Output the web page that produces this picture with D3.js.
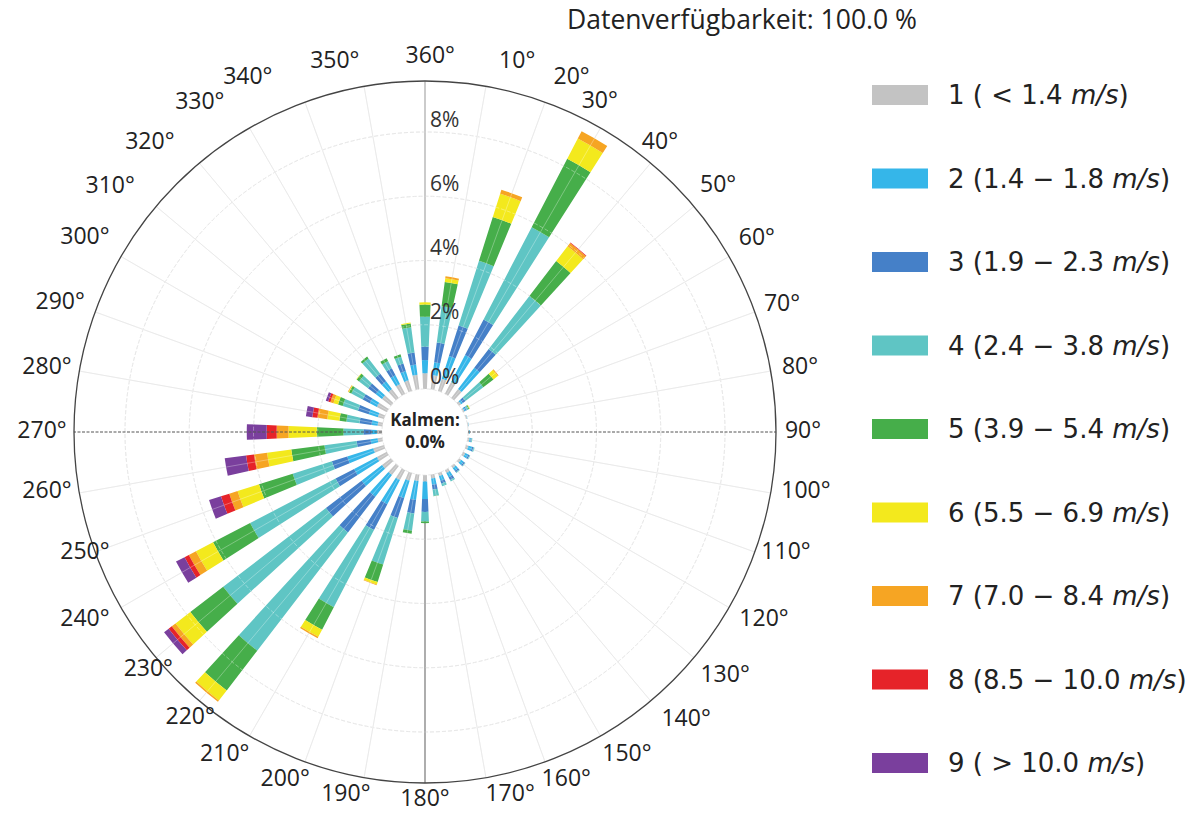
<!DOCTYPE html>
<html>
<head>
<meta charset="utf-8">
<script src="https://cdn.jsdelivr.net/npm/d3@7"></script>
<style>
  html, body { margin: 0; padding: 0; background: #fff; }
  svg { display: block; }
</style>
</head>
<body>
<svg id="chart" width="1204" height="814"></svg>
<script>
// ---------------- DATA ----------------
const directions = d3.range(0, 360, 10);   // 0°,10°,...,350°
// percent frequency per direction (index = direction/10) for each speed class
const class1 = [0.49,0.45,0.40,0.42,0.35,0.08,0.05,0.04,0.03,0.04,0.06,0.08,0.08,0.08,0.08,0.10,0.10,0.12,0.20,0.20,0.25,0.35,0.35,0.35,0.35,0.35,0.15,0.16,0.15,0.20,0.35,0.35,0.35,0.35,0.35,0.46];
const class2 = [0.41,0.40,0.74,0.94,0.83,0.07,0.04,0.01,0.01,0.02,0.04,0.12,0.10,0.10,0.10,0.15,0.15,0.20,0.55,0.60,0.57,0.85,0.85,0.80,0.80,0.85,0.22,0.16,0.19,0.30,0.25,0.25,0.30,0.30,0.30,0.32];
const class3 = [0.42,0.62,1.00,1.25,0.74,0.10,0.04,0.00,0.00,0.00,0.02,0.05,0.05,0.05,0.06,0.10,0.10,0.15,0.40,0.42,0.65,0.90,1.40,1.40,0.65,0.50,0.44,0.26,0.38,0.35,0.25,0.30,0.30,0.25,0.25,0.38];
const class4 = [0.93,1.14,2.11,3.24,2.08,0.70,0.06,0.00,0.00,0.00,0.03,0.03,0.02,0.02,0.03,0.05,0.08,0.20,0.30,0.54,1.52,2.71,4.64,4.03,3.00,1.28,1.01,0.62,0.41,0.50,0.40,0.35,0.60,0.25,0.22,0.79];
const class5 = [0.38,0.76,1.43,2.40,1.37,0.40,0.03,0.00,0.00,0.00,0.00,0.00,0.00,0.00,0.00,0.00,0.00,0.01,0.05,0.10,0.57,0.79,1.56,1.29,1.30,1.10,1.04,0.83,0.22,0.15,0.08,0.09,0.07,0.10,0.08,0.12];
const class6 = [0.07,0.12,0.76,0.71,0.58,0.17,0.02,0.00,0.00,0.00,0.00,0.00,0.00,0.00,0.00,0.00,0.00,0.00,0.00,0.00,0.08,0.25,0.40,0.58,0.60,0.70,0.76,0.88,0.38,0.15,0.02,0.02,0.00,0.00,0.00,0.03];
const class7 = [0.00,0.06,0.13,0.26,0.13,0.03,0.00,0.00,0.00,0.00,0.00,0.00,0.00,0.00,0.00,0.00,0.00,0.00,0.00,0.00,0.02,0.05,0.05,0.15,0.25,0.27,0.41,0.37,0.31,0.10,0.02,0.00,0.00,0.00,0.00,0.00];
const class8 = [0.00,0.00,0.00,0.00,0.02,0.00,0.00,0.00,0.00,0.00,0.00,0.00,0.00,0.00,0.00,0.00,0.00,0.00,0.00,0.00,0.00,0.00,0.00,0.12,0.15,0.27,0.25,0.31,0.16,0.07,0.00,0.00,0.00,0.00,0.00,0.00];
const class9 = [0.00,0.00,0.00,0.00,0.00,0.00,0.00,0.00,0.00,0.00,0.00,0.00,0.00,0.00,0.00,0.00,0.00,0.00,0.00,0.00,0.00,0.00,0.00,0.18,0.30,0.39,0.67,0.62,0.20,0.08,0.00,0.00,0.00,0.00,0.00,0.00];
const speedClasses = [class1, class2, class3, class4, class5, class6, class7, class8, class9];

const legendPrefix = ["1 ( < 1.4 ","2 (1.4 \u2212 1.8 ","3 (1.9 \u2212 2.3 ","4 (2.4 \u2212 3.8 ","5 (3.9 \u2212 5.4 ","6 (5.5 \u2212 6.9 ","7 (7.0 \u2212 8.4 ","8 (8.5 \u2212 10.0 ","9 ( > 10.0 "];
const radialTicks = [0, 2, 4, 6, 8];
const angleLabels = directions.map(d => (d === 0 ? 360 : d) + "°");
const titleText = "Datenverfügbarkeit: 100.0 %";
const calmText = ["Kalmen:", "0.0%"];

// ---------------- STYLE / LAYOUT ----------------
const classColors = ["#c3c3c3","#35b6e9","#4580c8","#5fc5c4","#46ae4a","#f3e91d","#f6a523","#e62329","#7a3f9d"];
// placement of the direction labels (polar: angle in degrees, distance from centre in px), as in the original
const labelAngle  = [0.8,14,22.5,27.9,39.1,50,59.8,70.4,80.3,90,99,108.5,119,129.1,137.8,148,157.9,166.8,180,192.3,201.9,211.8,219.4,229.3,241.1,250.4,261,270,279.6,289.5,299.7,307.9,316.4,325.6,333.4,346.3];
const labelRadius = [375,381,383,373.5,372.5,382.6,384,379,380.4,378,385.7,380.7,387.6,386.7,388.7,381,375.5,372.8,368,371.5,375,380,370,365,388.5,361,382.7,383,383.4,387,391.5,399,399,398.6,395.8,380.8];

const cx = 425, cy = 432;
const innerR = 43, outerR = 351;
const rScale = d3.scaleLinear().domain([0, 8]).range([innerR, 300]);
const barHalf = 2.5 * Math.PI / 180;
const toRad = d => d * Math.PI / 180;
const FONT = "'Open Sans', 'Noto Sans', sans-serif";

const svg = d3.select("#chart");
const g = svg.append("g").attr("transform", `translate(${cx},${cy})`);

// grid under bars
const gridG = g.append("g");
radialTicks.forEach(t => {
  gridG.append("circle").attr("r", rScale(t)).attr("fill", "none")
    .attr("stroke", "#dcdcdc").attr("stroke-width", 1).attr("stroke-dasharray", "4,2");
});
directions.forEach(d => {
  if (d % 90 === 0) return;
  const a = toRad(d);
  gridG.append("line")
    .attr("x1", innerR * Math.sin(a)).attr("y1", -innerR * Math.cos(a))
    .attr("x2", outerR * Math.sin(a)).attr("y2", -outerR * Math.cos(a))
    .attr("stroke", "#e2e2e2").attr("stroke-width", 1);
});
[[0, "#a8a8a8"], [180, "#777"]].forEach(([d, col]) => {
  const a = toRad(d);
  gridG.append("line")
    .attr("x1", innerR * Math.sin(a)).attr("y1", -innerR * Math.cos(a))
    .attr("x2", outerR * Math.sin(a)).attr("y2", -outerR * Math.cos(a))
    .attr("stroke", col).attr("stroke-width", 1.2);
});

// stacked bars
const arc = d3.arc();
const barsG = g.append("g");
directions.forEach((d, i) => {
  let cum = 0;
  speedClasses.forEach((arr, k) => {
    const v = arr[i];
    if (v <= 0) return;
    barsG.append("path")
      .attr("d", arc({
        innerRadius: rScale(cum), outerRadius: rScale(cum + v),
        startAngle: toRad(d) - barHalf, endAngle: toRad(d) + barHalf
      }))
      .attr("fill", classColors[k]);
    cum += v;
  });
});

// grid overlay (faint, over bars)
const overG = g.append("g").attr("pointer-events", "none");
radialTicks.forEach(t => {
  overG.append("circle").attr("r", rScale(t)).attr("fill", "none")
    .attr("stroke", "#ffffff").attr("stroke-opacity", 0.35).attr("stroke-width", 1).attr("stroke-dasharray", "4,2");
});
directions.forEach(d => {
  if (d % 90 === 0) return;
  const a = toRad(d);
  overG.append("line")
    .attr("x1", innerR * Math.sin(a)).attr("y1", -innerR * Math.cos(a))
    .attr("x2", outerR * Math.sin(a)).attr("y2", -outerR * Math.cos(a))
    .attr("stroke", "#ffffff").attr("stroke-opacity", 0.3).attr("stroke-width", 1);
});

[90, 270].forEach(d => {
  const a = toRad(d);
  g.append("line")
    .attr("x1", innerR * Math.sin(a)).attr("y1", -innerR * Math.cos(a))
    .attr("x2", outerR * Math.sin(a)).attr("y2", -outerR * Math.cos(a))
    .attr("stroke", "#555").attr("stroke-width", 1).attr("stroke-dasharray", "3,1.5");
});

// outer circle
g.append("circle").attr("r", outerR).attr("fill", "none").attr("stroke", "#444").attr("stroke-width", 1.3);
// calm disk
g.append("circle").attr("r", innerR - 0.5).attr("fill", "#fff");

// radial tick labels
radialTicks.forEach(t => {
  g.append("text").attr("x", 5).attr("y", -rScale(t) - 11)
    .attr("dominant-baseline", "middle")
    .attr("font-family", FONT).attr("font-size", 21).attr("fill", "#333")
    .text(t + "%");
});

// angle labels
directions.forEach((d, i) => {
  const a = toRad(labelAngle[i]), R = labelRadius[i];
  g.append("text")
    .attr("x", R * Math.sin(a)).attr("y", -R * Math.cos(a))
    .attr("text-anchor", "middle").attr("dominant-baseline", "middle")
    .attr("font-family", FONT).attr("font-size", 23).attr("fill", "#222")
    .text(angleLabels[i]);
});

// calm text
g.append("text").attr("x", 0).attr("y", -11).attr("text-anchor", "middle").attr("dominant-baseline", "middle")
  .attr("font-family", FONT).attr("font-weight", "bold").attr("font-size", 17).attr("fill", "#222")
  .text(calmText[0]);
g.append("text").attr("x", 0).attr("y", 11).attr("text-anchor", "middle").attr("dominant-baseline", "middle")
  .attr("font-family", FONT).attr("font-weight", "bold").attr("font-size", 17).attr("fill", "#222")
  .text(calmText[1]);

// title
svg.append("text").attr("x", 742).attr("y", 22).attr("text-anchor", "middle").attr("dominant-baseline", "middle")
  .attr("font-family", FONT).attr("font-size", 26.5).attr("fill", "#222")
  .text(titleText);

// legend
const legY = d3.scaleLinear().domain([0, 8]).range([95, 763]);
const legG = svg.append("g");
legendPrefix.forEach((p, k) => {
  legG.append("rect").attr("x", 872).attr("y", legY(k) - 10).attr("width", 56).attr("height", 20).attr("fill", classColors[k]);
  const t = legG.append("text").attr("x", 948).attr("y", legY(k) + 9)
    .attr("font-family", "'DejaVu Sans', sans-serif").attr("font-size", 26).attr("fill", "#222");
  t.append("tspan").text(p);
  t.append("tspan").attr("font-style", "italic").text("m/s");
  t.append("tspan").text(")");
});
</script>
</body>
</html>
